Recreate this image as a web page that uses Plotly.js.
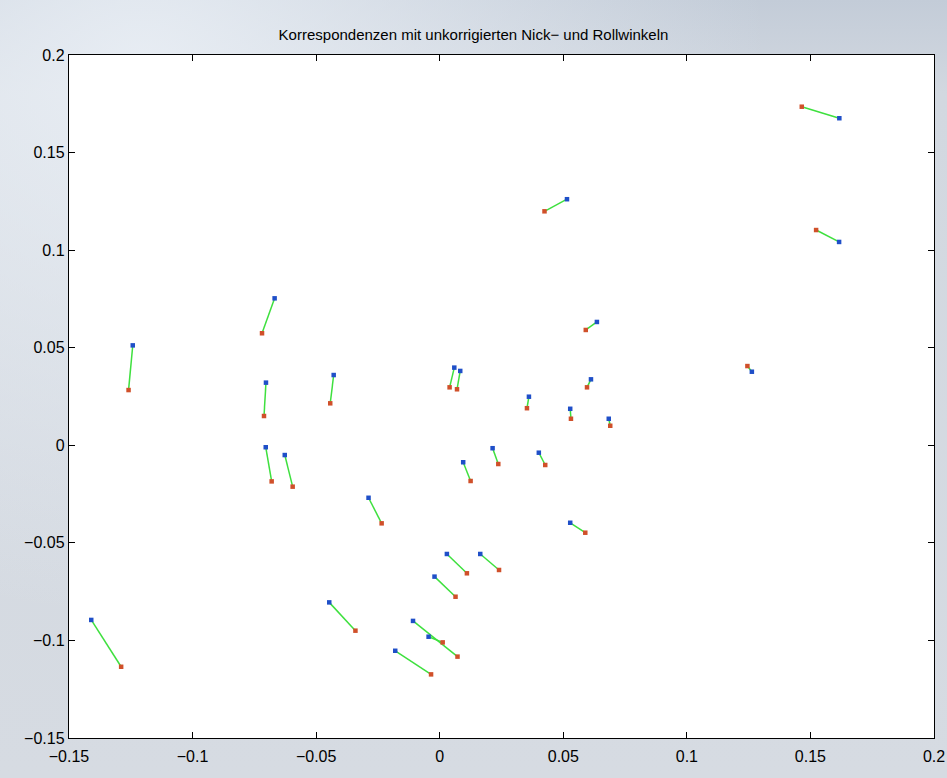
<!DOCTYPE html>
<html>
<head>
<meta charset="utf-8">
<script src="https://cdn.plot.ly/plotly-3.0.1.min.js"></script>
<style>
html,body{margin:0;padding:0;width:947px;height:778px;overflow:hidden;}
body{background:
 radial-gradient(ellipse at 15% 8%, rgba(236,241,247,0.85) 0%, rgba(200,208,220,0) 55%),
 linear-gradient(180deg, #c3ccd8 0%, #d2d8e0 12%, #d6dbe2 100%);}
#chart{width:947px;height:778px;}
</style>
</head>
<body>
<div id="chart"></div>
<script>
// Blue end points (uncorrected) and red end points
const blueX = [0.1617,0.1616,0.0515,0.0636,-0.0668,-0.1242,-0.0703,-0.0429,0.0059,0.0083,0.0361,0.0612,0.0528,0.0684,0.1263,-0.0704,-0.0627,0.0095,0.0214,0.0401,-0.0288,0.0528,0.0029,0.0164,-0.0021,-0.0447,-0.0108,-0.0045,-0.0180,-0.1410];
const blueY = [0.1676,0.1042,0.1261,0.0632,0.0753,0.0512,0.0321,0.0360,0.0398,0.0381,0.0249,0.0338,0.0187,0.0136,0.0377,-0.0010,-0.0050,-0.0087,-0.0015,-0.0038,-0.0269,-0.0397,-0.0557,-0.0557,-0.0673,-0.0805,-0.0900,-0.0981,-0.1053,-0.0895];
const redX = [0.1465,0.1523,0.0424,0.0591,-0.0719,-0.1259,-0.0711,-0.0443,0.0040,0.0070,0.0353,0.0596,0.0531,0.0690,0.1245,-0.0680,-0.0595,0.0125,0.0237,0.0427,-0.0235,0.0589,0.0110,0.0240,0.0064,-0.0341,0.0072,0.0012,-0.0035,-0.1289];
const redY = [0.1735,0.1103,0.1199,0.0591,0.0574,0.0283,0.0150,0.0215,0.0297,0.0287,0.0190,0.0297,0.0136,0.0100,0.0406,-0.0185,-0.0212,-0.0183,-0.0096,-0.0101,-0.0400,-0.0448,-0.0656,-0.0639,-0.0776,-0.0950,-0.1083,-0.1010,-0.1174,-0.1135];

const xTicks = [-0.15,-0.1,-0.05,0,0.05,0.1,0.15,0.2];
const xTickText = ['\u22120.15','\u22120.1','\u22120.05','0','0.05','0.1','0.15','0.2'];
const yTicks = [-0.15,-0.1,-0.05,0,0.05,0.1,0.15,0.2];
const yTickText = ['\u22120.15','\u22120.1','\u22120.05','0','0.05','0.1','0.15','0.2'];

const lx = [], ly = [];
for (let i = 0; i < blueX.length; i++) {
  lx.push(blueX[i], redX[i], null);
  ly.push(blueY[i], redY[i], null);
}

const fam = '"Liberation Sans Narrow", "Liberation Sans", Arial, sans-serif';
const font = {family: fam, size: 16, color: '#000'};

const traces = [
  {x: lx, y: ly, mode: 'lines', type: 'scatter', line: {color: '#3ee03e', width: 1.5}, hoverinfo: 'skip'},
  {x: blueX, y: blueY, mode: 'markers', type: 'scatter', marker: {color: '#1f4fc8', size: 4.5, symbol: 'square'}},
  {x: redX, y: redY, mode: 'markers', type: 'scatter', marker: {color: '#d0502a', size: 4.5, symbol: 'square'}}
];

const axisCommon = {
  showgrid: false, zeroline: false, showline: true, linecolor: '#000', linewidth: 1.2,
  mirror: 'ticks', ticks: 'inside', ticklen: 6, tickcolor: '#000', tickwidth: 1.2,
  tickfont: font, fixedrange: true
};

const layout = {
  width: 947, height: 778,
  margin: {l: 68.5, r: 13, t: 55, b: 40, pad: 0},
  paper_bgcolor: 'rgba(0,0,0,0)',
  plot_bgcolor: '#ffffff',
  showlegend: false,
  title: {text: 'Korrespondenzen mit unkorrigierten Nick\u2212 und Rollwinkeln', font: {family: fam, size: 15, color: '#000'}, x: 0.5, xanchor: 'center', y: 1 - 35/778, yanchor: 'middle'},
  xaxis: Object.assign({}, axisCommon, {range: [-0.15, 0.2], tickvals: xTicks, ticktext: xTickText, ticklabelstandoff: 4}),
  yaxis: Object.assign({}, axisCommon, {range: [-0.15, 0.2], tickvals: yTicks, ticktext: yTickText, ticklabelstandoff: 0})
};

Plotly.newPlot('chart', traces, layout, {displayModeBar: false, staticPlot: true});
</script>
</body>
</html>
